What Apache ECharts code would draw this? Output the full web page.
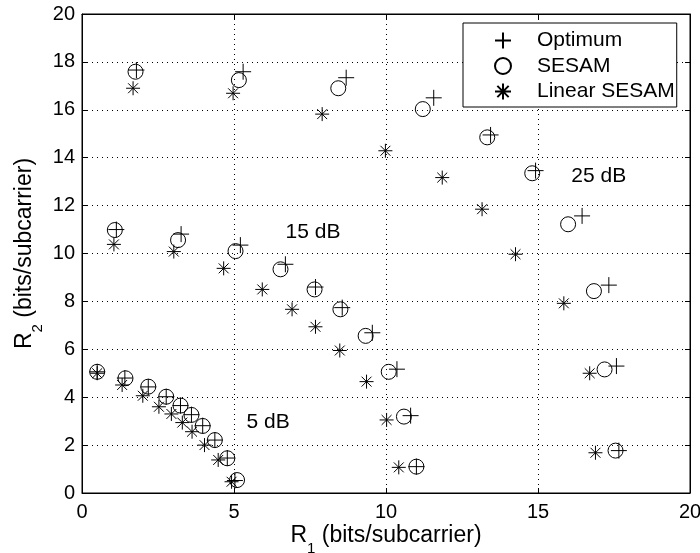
<!DOCTYPE html>
<html><head><meta charset="utf-8">
<script src="https://cdn.jsdelivr.net/npm/echarts@6/dist/echarts.min.js"></script>
<style>html,body{margin:0;padding:0;background:#fff}#c{width:700px;height:553px}</style>
</head><body><div id="c"></div>
<script>
// Axis ticks
const xTicks = [0, 5, 10, 15, 20];
const yTicks = [0, 2, 4, 6, 8, 10, 12, 14, 16, 18, 20];

// Optimum [R1, R2] (5 dB, 15 dB, 25 dB groups)
const optimum = [
  [0.5,5.06],[1.41,4.8],[2.18,4.43],[2.77,4.02],[3.24,3.65],[3.6,3.27],[3.97,2.81],[4.37,2.21],[4.78,1.46],[5.03,0.52],
  [1.13,11.0],[3.26,10.81],[5.21,10.35],[6.69,9.55],[7.68,8.6],[8.56,7.74],[9.55,6.69],[10.36,5.17],[10.81,3.23],[11.0,1.1],
  [1.79,17.66],[5.3,17.59],[8.69,17.34],[11.57,16.5],[13.44,14.95],[14.92,13.46],[16.45,11.57],[17.33,8.68],[17.58,5.3],[17.66,1.77]
];
// SESAM [R1, R2]
const sesam = [
  [0.5,5.06],[1.43,4.79],[2.18,4.44],[2.77,4.02],[3.24,3.65],[3.6,3.26],[3.97,2.8],[4.37,2.21],[4.78,1.45],[5.1,0.54],
  [1.08,10.98],[3.16,10.56],[5.05,10.1],[6.53,9.34],[7.65,8.5],[8.5,7.67],[9.33,6.56],[10.09,5.06],[10.59,3.19],[11.0,1.1],
  [1.76,17.59],[5.16,17.24],[8.43,16.9],[11.21,16.03],[13.33,14.85],[14.81,13.35],[15.99,11.22],[16.84,8.43],[17.19,5.16],[17.55,1.77]
];
// Linear SESAM [R1, R2]
const linearSesam = [
  [0.5,5.0],[1.32,4.51],[2.0,4.06],[2.53,3.6],[2.94,3.3],[3.3,2.94],[3.62,2.56],[4.03,2.0],[4.48,1.38],[4.92,0.47],
  [1.05,10.38],[3.02,10.08],[4.66,9.38],[5.93,8.5],[6.91,7.67],[7.68,6.94],[8.48,5.95],[9.36,4.65],[10.02,3.05],[10.42,1.07],
  [1.68,16.9],[4.97,16.69],[7.9,15.82],[9.98,14.29],[11.85,13.17],[13.16,11.85],[14.26,9.97],[15.85,7.92],[16.7,5.0],[16.89,1.68]
];

// SNR annotations
const annotationText = ['5 dB', '15 dB', '25 dB'];
const annotationR1 = [6.12, 7.6, 17.0];
const annotationR2 = [2.96, 10.9, 13.24];

const FONT = '"Liberation Sans", Arial, Helvetica, sans-serif';
const plusPath = 'path://M0,8H16M8,0V16';
const starPath = 'path://M0,8H16M8,0V16M2.34,2.34L13.66,13.66M2.34,13.66L13.66,2.34';

const hollow = { color: 'rgba(0,0,0,0)', borderColor: '#000', borderWidth: 1, opacity: 1 };

const xMin = xTicks[0], xMax = xTicks[xTicks.length - 1], xInt = xTicks[1] - xTicks[0];
const yMin = yTicks[0], yMax = yTicks[yTicks.length - 1], yInt = yTicks[1] - yTicks[0];

const nameRich = {
  m: { fontSize: 23, fontFamily: FONT, color: '#000', lineHeight: 26 },
  s: { fontSize: 15, fontFamily: FONT, color: '#000', lineHeight: 15, padding: [25, 0, 0, 0] }
};

const chart = echarts.init(document.getElementById('c'), null, { renderer: 'canvas' });
chart.setOption({
  animation: false,
  backgroundColor: '#fff',
  grid: { left: 82, right: 10, top: 14, bottom: 60, show: true, borderColor: '#000', borderWidth: 1,
          backgroundColor: 'transparent', containLabel: false, outerBoundsMode: 'none' },
  xAxis: [{
    type: 'value', min: xMin, max: xMax, interval: xInt, position: 'bottom',
    axisLine: { show: true, onZero: false, lineStyle: { color: '#000', width: 1 } },
    axisTick: { show: true, inside: true, length: 5, lineStyle: { color: '#000' } },
    axisLabel: { show: true, fontSize: 20, fontFamily: FONT, color: '#000', margin: 9 },
    splitLine: { show: true, lineStyle: { color: '#000', width: 1, type: [1, 4] } },
    name: '{m|R}{s|1}{m| (bits/subcarrier)}', nameLocation: 'middle', nameGap: 30, nameMoveOverlap: false,
    nameTextStyle: { rich: nameRich }
  }, {
    type: 'value', min: xMin, max: xMax, interval: xInt, position: 'top',
    axisLine: { show: true, onZero: false, lineStyle: { color: '#000', width: 1 } },
    axisTick: { show: true, inside: true, length: 5, lineStyle: { color: '#000' } },
    axisLabel: { show: false }, splitLine: { show: false }
  }],
  yAxis: [{
    type: 'value', min: yMin, max: yMax, interval: yInt, position: 'left',
    axisLine: { show: true, onZero: false, lineStyle: { color: '#000', width: 1 } },
    axisTick: { show: true, inside: true, length: 5, lineStyle: { color: '#000' } },
    axisLabel: { show: true, fontSize: 20, fontFamily: FONT, color: '#000', margin: 7 },
    splitLine: { show: true, lineStyle: { color: '#000', width: 1, type: [1, 4] } },
    name: '{m|R}{s|2}{m| (bits/subcarrier)}', nameLocation: 'middle', nameGap: 44, nameRotate: 90, nameMoveOverlap: false,
    nameTextStyle: { rich: nameRich }
  }, {
    type: 'value', min: yMin, max: yMax, interval: yInt, position: 'right',
    axisLine: { show: true, onZero: false, lineStyle: { color: '#000', width: 1 } },
    axisTick: { show: true, inside: true, length: 5, lineStyle: { color: '#000' } },
    axisLabel: { show: false }, splitLine: { show: false }
  }],
  legend: {
    orient: 'vertical', left: 463, top: 23,
    padding: [7, 2, 5, 31], itemWidth: 16, itemHeight: 16, itemGap: 4.5,
    borderColor: '#000', borderWidth: 1, backgroundColor: '#fff',
    textStyle: { fontSize: 21, fontFamily: FONT, color: '#000', lineHeight: 20, padding: [0, 0, 0, 21] },
    data: [
      { name: 'Optimum', icon: plusPath },
      { name: 'SESAM', icon: 'circle' },
      { name: 'Linear SESAM', icon: starPath }
    ],
    selectedMode: false
  },
  series: [
    { name: 'Optimum', type: 'scatter', data: optimum, symbol: plusPath, symbolSize: 16, symbolKeepAspect: true, itemStyle: hollow, silent: true, z: 3 },
    { name: 'SESAM', type: 'scatter', data: sesam, symbol: 'circle', symbolSize: 15, itemStyle: hollow, silent: true, z: 3 },
    { name: 'Linear SESAM', type: 'scatter', data: linearSesam, symbol: starPath, symbolSize: 14, symbolKeepAspect: true, itemStyle: hollow, silent: true, z: 3 },
    {
      name: 'annotations', type: 'scatter', silent: true, symbolSize: 0, z: 4,
      data: annotationText.map((t, i) => ({ name: t, value: [annotationR1[i], annotationR2[i]] })),
      itemStyle: { color: 'rgba(0,0,0,0)', opacity: 1 },
      label: { show: true, position: 'inside', formatter: p => p.name, fontSize: 21, fontFamily: FONT, color: '#000' }
    }
  ]
});
</script>
</body></html>
